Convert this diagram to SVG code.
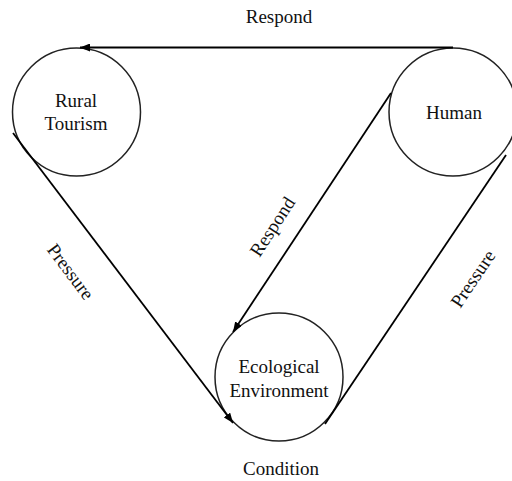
<svg xmlns="http://www.w3.org/2000/svg" width="512" height="481" viewBox="0 0 512 481">
<style>
.node{fill:#fff;stroke:#222;stroke-width:1.5}
.t{font-family:"Liberation Serif","Times New Roman",serif;font-size:19px;fill:#111;text-anchor:middle}
.c{fill:none;stroke:#000;stroke-width:1.8}
</style>
<defs>
<marker id="ah" viewBox="0 0 10 8" refX="10" refY="4" markerWidth="10" markerHeight="8" markerUnits="userSpaceOnUse" orient="auto">
<path d="M0,0 L10,4 L0,8 Z" fill="#000"/>
</marker>
</defs>
<rect width="512" height="481" fill="#fff"/>
<g id="rural">
<circle class="node" cx="76.5" cy="112" r="64"/>
<text class="t" x="76" y="107">Rural</text>
<text class="t" x="76" y="130">Tourism</text>
</g>
<g id="human">
<circle class="node" cx="453" cy="112" r="64"/>
<text class="t" x="454" y="119">Human</text>
</g>
<g id="eco">
<circle class="node" cx="279" cy="377" r="64"/>
<text class="t" x="279" y="373">Ecological</text>
<text class="t" x="279" y="397">Environment</text>
</g>
<g id="connectors">
<line class="c" x1="453" y1="47.5" x2="80" y2="47.5" marker-end="url(#ah)"/>
<line class="c" x1="13" y1="133" x2="233" y2="423" marker-end="url(#ah)"/>
<line class="c" x1="391" y1="93" x2="233" y2="332" marker-end="url(#ah)"/>
<line class="c" x1="506" y1="155" x2="325" y2="424"/>
</g>
<g id="labels">
<text class="t" x="279" y="23">Respond</text>
<text class="t" x="281" y="475">Condition</text>
<text class="t" transform="translate(273.5,227.5) rotate(-57)" y="5">Respond</text>
<text class="t" transform="translate(69.5,272.5) rotate(53)" y="5">Pressure</text>
<text class="t" transform="translate(474,279.5) rotate(-56)" y="5">Pressure</text>
</g>
</svg>
